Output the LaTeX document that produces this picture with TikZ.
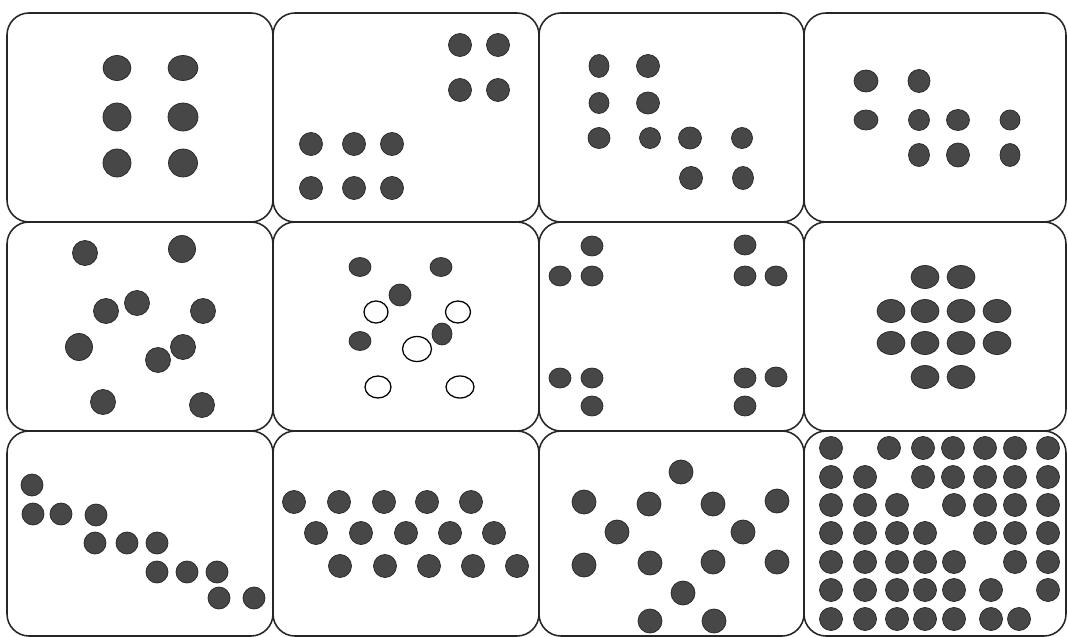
\documentclass[tikz,border=0pt]{standalone}
\usepackage{tikz}

\tikzset{
  panel/.style={draw=black!85, line width=1.1pt, rounded corners=0.55cm},
  dot/.style={fill=black!72, draw=black!85, line width=0.5pt},
  ring/.style={fill=white, draw=black, line width=0.9pt}
}

\begin{document}
\begin{tikzpicture}[x=0.025cm, y=-0.025cm]
        \useasboundingbox (0,0) rectangle (1068,637);
        % the twelve cards
        \foreach \xa/\xb in {7/273, 273/539, 539/804, 804/1066}
            \foreach \ya/\yb in {13/222, 222/431, 431/636}
                \draw[panel] (\xa,\ya) rectangle (\xb,\yb);
        % top row
        \foreach \x/\y/\a/\b in {117/68/14/12.5, 183/68/15/12.5, 117/117/14/14,
                183/117/15/14, 117/163/14/14, 183/163/14.5/14}
            \draw[dot] (\x,\y) ellipse [x radius=\a, y radius=\b];
        \foreach \x/\y in {460/45, 498/45, 460/90, 498/90, 311/144, 354/144,
                392/144, 311/188, 354/188, 392/188}
            \draw[dot] (\x,\y) circle [radius=11.5];
        \foreach \x/\y/\a/\b in {599/66/10/11.5, 648/66/11.5/11.5, 599/103/10/10.5,
                648/103/11.5/11, 599/138/11/10.5, 650/138/10.5/10.5, 690/138/11.5/11,
                742/138/10.5/10.5, 691/178/11.5/11.5, 743/178/10.5/11.5}
            \draw[dot] (\x,\y) ellipse [x radius=\a, y radius=\b];
        \foreach \x/\y/\a/\b in {866/81/12/11, 919/81/11/11.5, 866/120/12/10,
                919/120/10.5/10.5, 958/120/11.5/10.5, 1010/120/10/10,
                919/155/10.5/11.5, 958/155/11.5/12, 1010/155/10/11.5}
            \draw[dot] (\x,\y) ellipse [x radius=\a, y radius=\b];
        % middle row
        \foreach \x/\y/\r in {85/253/12.5, 182/249/13.5, 106/311/12.5, 137/303/12.5,
                203/311/12.5, 79/347/13.5, 183/347/12.5, 158/360/12.5,
                103/402/12.5, 202/405/12.5}
            \draw[dot] (\x,\y) circle [radius=\r];
        \foreach \x/\y/\a/\b in {360/267/11/9.5, 441/267/11/9.5, 400/295/11/11,
                360/341/11/9.5, 442/334/10/11}
            \draw[dot] (\x,\y) ellipse [x radius=\a, y radius=\b];
        \foreach \x/\y/\a/\b in {376/312/12/11, 458/312/12.5/11, 417/349/14.5/12.5,
                378/387/13/11, 460/387/14/11}
            \draw[ring] (\x,\y) ellipse [x radius=\a, y radius=\b];
        \foreach \x/\y in {592/246, 560/276, 592/276, 745/245, 745/276, 776/276,
                560/378, 592/378, 592/406, 745/378, 776/377, 745/406}
            \draw[dot] (\x,\y) ellipse [x radius=11, y radius=10];
        \foreach \x/\y in {925/277, 961/277, 891/311, 925/311, 961/311, 997/311,
                891/343, 925/343, 961/343, 997/343, 925/377, 961/377}
            \draw[dot] (\x,\y) ellipse [x radius=14, y radius=11.5];
        % bottom row
        \foreach \x/\y in {32/485, 33/514, 61/514, 96/515, 95/543, 127/543, 157/543,
                157/572, 187/572, 217/572, 219/598, 254/598}
            \draw[dot] (\x,\y) circle [radius=11];
        \foreach \x/\y in {294/502, 339/502, 384/502, 427/502, 471/502,
                316/533, 361/533, 406/533, 450/533, 494/533,
                340/566, 385/566, 429/566, 473/566, 517/566}
            \draw[dot] (\x,\y) circle [radius=11.5];
        \foreach \x/\y in {681/472, 584/502, 649/504, 713/504, 777/501, 617/532,
                743/532, 584/565, 650/563, 713/562, 777/562, 683/593, 650/621,
                714/621}
            \draw[dot] (\x,\y) circle [radius=12];
        \foreach \x/\y in {831/448, 889/448, 923/448, 953/448, 985/448, 1015/448, 1048/448,
                831/477, 865/477, 923/477, 953/477, 985/477, 1015/477, 1048/477,
                831/505, 865/505, 897/505, 954/505, 985/505, 1015/505, 1048/505,
                831/533, 865/533, 897/533, 925/533, 985/533, 1015/533, 1048/533,
                831/562, 865/562, 897/562, 925/562, 954/562, 1015/562, 1048/562,
                831/590, 865/590, 897/590, 925/590, 954/590, 991/590, 1048/590,
                831/619, 865/619, 897/619, 925/619, 954/619, 991/619, 1019/619}
            \draw[dot] (\x,\y) circle [radius=11.5];
\end{tikzpicture}
\end{document}
